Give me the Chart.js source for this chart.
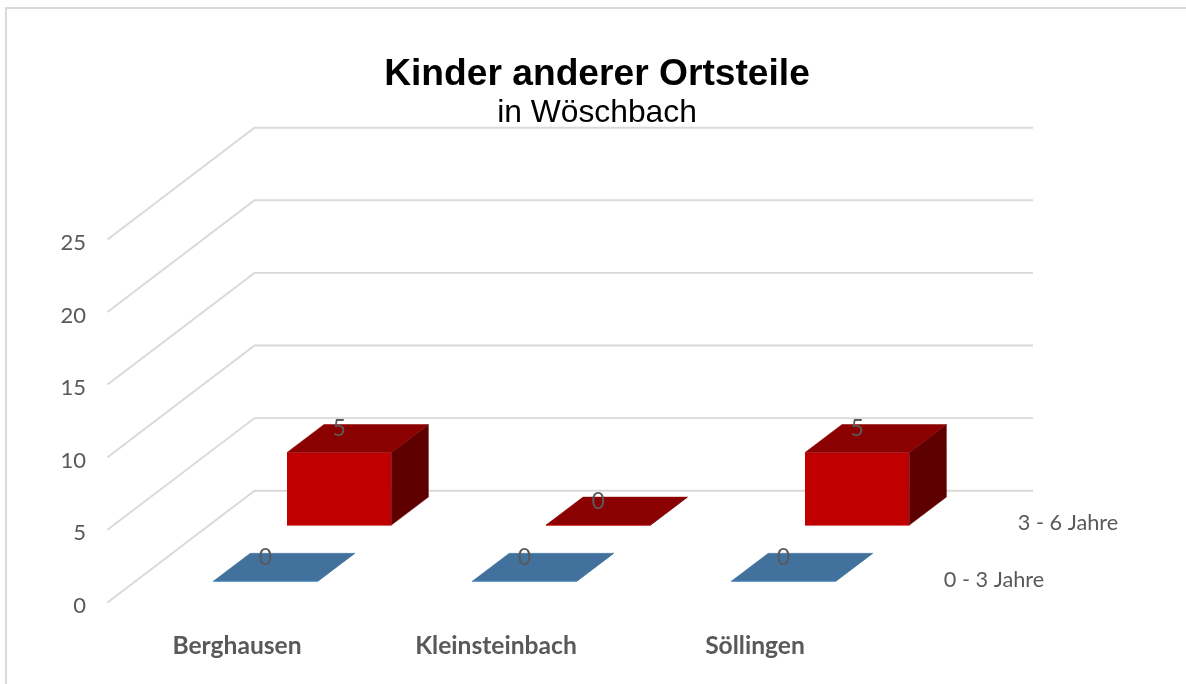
<!DOCTYPE html>
<html>
<head>
<meta charset="utf-8">
<title>Kinder anderer Ortsteile</title>
<script src="https://cdn.jsdelivr.net/npm/chart.js@4"></script>
<style>
    html, body { margin: 0; height: 100%; overflow: hidden; background: #fff; }
    #frame { position: absolute; left: 5px; top: 7px; width: 1300px; height: 800px; border: 2px solid #d9d9d9; }
    #chart { position: absolute; left: 0; top: 0; }
</style>
</head>
<body>
<div id="frame"></div>
<canvas id="chart" width="1186" height="684"></canvas>
<script>
// Daten
const orte = ['Berghausen', 'Kleinsteinbach', 'Söllingen'];
const jahre0bis3 = [0, 0, 0];
const jahre3bis6 = [5, 0, 5];
const yTicks = [0, 5, 10, 15, 20, 25];

// 3D-Geometrie, in Pixeln
const WALL = { dy: -3.6, backDx: 147, backDy: -111.7, right: 1033 };
const BAR_DEPTH = { dx: 37, dy: -28 };
const LABEL_COLOR = '#595959';

const look3d = [
    { dx: 28.4, dy: -24.7, top: '#41719C', side: '#2F5D85', edge: '#5B9BD5', labelX: 994, labelY: 580 },
    { dx: 102.2, dy: -80.9, top: '#8B0000', side: '#5F0000', edge: '#C00000', labelX: 1068, labelY: 523 }
];

function poly(ctx, points, color) {
    ctx.beginPath();
    points.forEach((p, i) => i ? ctx.lineTo(p[0], p[1]) : ctx.moveTo(p[0], p[1]));
    ctx.closePath();
    ctx.fillStyle = color;
    ctx.strokeStyle = color;
    ctx.lineWidth = 0.5;
    ctx.fill();
    ctx.stroke();
}

const plugin3d = {
    id: 'plugin3d',
    // Wände mit Gitterlinien
    beforeDatasetsDraw(chart) {
        const { ctx, chartArea, scales } = chart;
        ctx.save();
        ctx.strokeStyle = '#d9d9d9';
        ctx.lineWidth = 1.9;
        yTicks.forEach(v => {
            const y = scales.y.getPixelForValue(v) + WALL.dy;
            ctx.beginPath();
            ctx.moveTo(chartArea.left, y);
            ctx.lineTo(chartArea.left + WALL.backDx, y + WALL.backDy);
            ctx.lineTo(WALL.right, y + WALL.backDy);
            ctx.stroke();
        });
        ctx.restore();
    },
    beforeDatasetDraw(chart, args) {
        const look = look3d[args.index];
        chart.ctx.save();
        chart.ctx.translate(look.dx, look.dy);
    },
    // Deckfläche und Seitenfläche jeder Säule
    afterDatasetDraw(chart, args) {
        const ctx = chart.ctx;
        const look = look3d[args.index];
        args.meta.data.forEach(bar => {
            const l = bar.x - bar.width / 2;
            const r = bar.x + bar.width / 2;
            const d = BAR_DEPTH;
            poly(ctx, [[r, bar.y], [r + d.dx, bar.y + d.dy], [r + d.dx, bar.base + d.dy], [r, bar.base]], look.side);
            poly(ctx, [[l, bar.y], [r, bar.y], [r + d.dx, bar.y + d.dy], [l + d.dx, bar.y + d.dy]], look.top);
            ctx.strokeStyle = look.edge;
            ctx.lineWidth = 1;
            ctx.beginPath();
            ctx.moveTo(l, bar.base);
            ctx.lineTo(r, bar.base);
            ctx.stroke();
        });
        ctx.restore();
    },
    // Datenwerte und Beschriftung der Tiefenachse
    afterDatasetsDraw(chart) {
        const ctx = chart.ctx;
        ctx.save();
        ctx.fillStyle = LABEL_COLOR;
        ctx.textAlign = 'center';
        ctx.textBaseline = 'middle';
        chart.data.datasets.forEach((ds, i) => {
            const look = look3d[i];
            ctx.font = '23px Lato';
            chart.getDatasetMeta(i).data.forEach((bar, j) => {
                ctx.fillText(ds.data[j], bar.x + look.dx, bar.y + look.dy + BAR_DEPTH.dy + 4);
            });
            ctx.font = '21.7px Lato';
            ctx.fillText(ds.label, look.labelX, look.labelY);
        });
        ctx.restore();
    }
};

new Chart(document.getElementById('chart').getContext('2d'), {
    type: 'bar',
    plugins: [plugin3d],
    data: {
        labels: orte,
        datasets: [
            { label: '0 - 3 Jahre', data: jahre0bis3, backgroundColor: '#5B9BD5' },
            { label: '3 - 6 Jahre', data: jahre3bis6, backgroundColor: '#C00000' }
        ]
    },
    options: {
        responsive: false,
        animation: false,
        layout: { padding: { left: 8 } },
        datasets: { bar: { grouped: false, categoryPercentage: 1, barPercentage: 0.403, clip: false } },
        scales: {
            x: {
                grid: { display: false },
                border: { display: false },
                ticks: { color: LABEL_COLOR, font: { family: 'Lato', size: 24.6, weight: 'bold' }, padding: 17.5, maxRotation: 0 },
                afterFit(scale) { scale.height = 78; }
            },
            y: {
                min: 0,
                max: 25,
                grid: { display: false, drawTicks: false },
                border: { display: false },
                ticks: { stepSize: 5, color: LABEL_COLOR, font: { family: 'Lato', size: 22 }, padding: 21.5 },
                afterFit(scale) { scale.width = 99.5; }
            },
            // leere Achse, hält rechts Platz für die Tiefenachse frei
            rechts: {
                position: 'right',
                display: true,
                grid: { display: false, drawTicks: false },
                border: { display: false },
                ticks: { display: false },
                afterFit(scale) { scale.width = 301.5; }
            }
        },
        plugins: {
            legend: { display: false },
            tooltip: { enabled: false },
            title: {
                display: true,
                text: 'Kinder anderer Ortsteile',
                color: '#000',
                font: { family: 'Liberation Sans', size: 37.2, weight: 'bold', lineHeight: 1.2 },
                padding: { top: 52, bottom: 0 }
            },
            subtitle: {
                display: true,
                text: 'in Wöschbach',
                color: '#000',
                font: { family: 'Liberation Sans', size: 31.8, weight: 'normal', lineHeight: 1.2 },
                padding: { top: -2, bottom: 110.2 }
            }
        }
    }
});
</script>
</body>
</html>
